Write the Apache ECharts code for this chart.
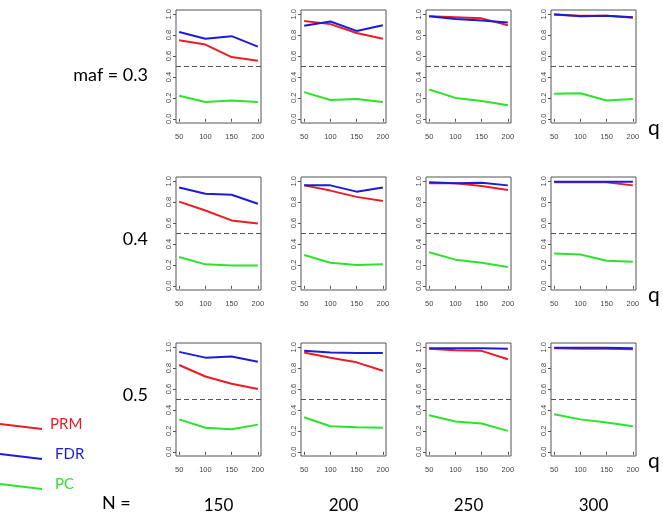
<!DOCTYPE html>
<html>
<head>
<meta charset="utf-8">
<script src="https://cdn.jsdelivr.net/npm/echarts@6/dist/echarts.min.js"></script>
<style>
  html, body { margin: 0; padding: 0; background: #fff; }
  #main { width: 663px; height: 520px; }
</style>
</head>
<body>
<div id="main"></div>
<script>
var qValues = [50, 100, 150, 200];
var nValues = [150, 200, 250, 300];
var rowLabels = ['maf = 0.3', '0.4', '0.5'];
var yTicks = [0, 0.2, 0.4, 0.6, 0.8, 1.0];
var cutoff = 0.5;

// rows = maf 0.3 / 0.4 / 0.5, inside each row one list per N
var prm = [
  [[0.75, 0.71, 0.59, 0.555], [0.935, 0.905, 0.82, 0.765], [0.98, 0.97, 0.96, 0.895], [0.995, 0.985, 0.985, 0.965]],
  [[0.805, 0.72, 0.625, 0.595], [0.96, 0.91, 0.85, 0.81], [0.98, 0.98, 0.955, 0.915], [0.99, 0.99, 0.99, 0.96]],
  [[0.83, 0.72, 0.65, 0.6], [0.95, 0.9, 0.855, 0.775], [0.985, 0.97, 0.965, 0.885], [0.99, 0.985, 0.985, 0.98]]
];
var fdr = [
  [[0.83, 0.765, 0.79, 0.69], [0.89, 0.93, 0.84, 0.895], [0.98, 0.955, 0.94, 0.92], [1.0, 0.98, 0.985, 0.97]],
  [[0.94, 0.88, 0.87, 0.785], [0.96, 0.96, 0.9, 0.94], [0.99, 0.98, 0.985, 0.96], [0.995, 0.995, 0.995, 0.995]],
  [[0.955, 0.9, 0.91, 0.86], [0.965, 0.95, 0.945, 0.945], [0.99, 0.99, 0.99, 0.985], [0.995, 0.995, 0.995, 0.99]]
];
var pc = [
  [[0.22, 0.16, 0.175, 0.16], [0.255, 0.18, 0.19, 0.16], [0.28, 0.2, 0.17, 0.13], [0.24, 0.245, 0.175, 0.19]],
  [[0.275, 0.205, 0.195, 0.195], [0.295, 0.22, 0.2, 0.205], [0.32, 0.25, 0.22, 0.18], [0.31, 0.3, 0.24, 0.23]],
  [[0.31, 0.23, 0.215, 0.26], [0.33, 0.245, 0.235, 0.23], [0.35, 0.29, 0.27, 0.2], [0.36, 0.31, 0.28, 0.245]]
];

var colLeft = [176, 301, 426, 551];
var rowTop = [10, 177, 343];
var boxW = 85, boxH = 113;
var colors = { PRM: '#ec1c24', FDR: '#1c1cd6', PC: '#2de22d' };
var axisColor = '#555';

var chart = echarts.init(document.getElementById('main'), null, { renderer: 'canvas' });

function pairs(vals) {
  return qValues.map(function (q, i) { return [q, vals[i]]; });
}

var grids = [], xAxes = [], yAxes = [], series = [];
for (var r = 0; r < 3; r++) {
  for (var c = 0; c < 4; c++) {
    var g = grids.length;
    grids.push({
      left: colLeft[c], top: rowTop[r], width: boxW, height: boxH,
      show: true, borderColor: axisColor, borderWidth: 1, backgroundColor: 'transparent'
    });
    xAxes.push({
      gridIndex: g, type: 'value', min: 44, max: 206,
      splitLine: { show: false },
      axisLine: { show: false },
      axisTick: { show: true, customValues: qValues, length: 3, lineStyle: { color: axisColor } },
      axisLabel: { customValues: qValues, fontSize: 7.5, color: '#444', margin: 10, fontFamily: 'Liberation Sans' }
    });
    yAxes.push({
      gridIndex: g, type: 'value', min: -0.04, max: 1.04,
      splitLine: { show: false },
      axisLine: { show: false },
      axisTick: { show: true, customValues: yTicks, length: 3, lineStyle: { color: axisColor } },
      axisLabel: {
        customValues: yTicks, fontSize: 7.5, color: '#444', margin: 3, rotate: 90,
        fontFamily: 'Liberation Sans',
        formatter: function (v) { return v.toFixed(1); }
      }
    });
    var common = {
      type: 'line', xAxisIndex: g, yAxisIndex: g, symbol: 'none',
      silent: true, animation: false
    };
    series.push(Object.assign({}, common, {
      name: 'PRM', data: pairs(prm[r][c]),
      lineStyle: { color: colors.PRM, width: 2 },
      markLine: {
        silent: true, symbol: 'none', label: { show: false },
        lineStyle: { color: '#555', type: [5, 3], width: 1 },
        data: [{ yAxis: cutoff }]
      }
    }));
    series.push(Object.assign({}, common, {
      name: 'FDR', data: pairs(fdr[r][c]),
      lineStyle: { color: colors.FDR, width: 2 }
    }));
    series.push(Object.assign({}, common, {
      name: 'PC', data: pairs(pc[r][c]),
      lineStyle: { color: colors.PC, width: 2 }
    }));
  }
}

var labelFont = 'Lato, "Open Sans", sans-serif';
var graphics = [];
var rowLabelY = [77, 241, 397];
rowLabels.forEach(function (t, r) {
  graphics.push({
    type: 'text', right: 663 - 148, top: rowLabelY[r] - 11,
    style: { text: t, font: '18px ' + labelFont, fill: '#000' }
  });
  graphics.push({
    type: 'text', left: 648, top: rowTop[r] + 108,
    style: { text: 'q', font: '21px ' + labelFont, fill: '#000' }
  });
});
graphics.push({
  type: 'text', left: 102, top: 494,
  style: { text: 'N =', font: '18px ' + labelFont, fill: '#000' }
});
nValues.forEach(function (n, c) {
  graphics.push({
    type: 'text', x: colLeft[c] + boxW / 2, y: 497,
    style: { text: String(n), font: '17px ' + labelFont, fill: '#000', textAlign: 'center' }
  });
});

// legend in the lower left corner
var legendItems = [
  { name: 'PRM', y: 426, tx: 50 },
  { name: 'FDR', y: 456, tx: 55 },
  { name: 'PC', y: 486, tx: 55 }
];
legendItems.forEach(function (it) {
  graphics.push({
    type: 'line',
    shape: { x1: 0, y1: it.y - 2, x2: 42, y2: it.y + 3 },
    style: { stroke: colors[it.name], lineWidth: 2 }
  });
  graphics.push({
    type: 'text', left: it.tx, top: it.y - 9,
    style: { text: it.name, font: '15px ' + labelFont, fill: colors[it.name] }
  });
});

chart.setOption({
  animation: false,
  backgroundColor: '#fff',
  grid: grids,
  xAxis: xAxes,
  yAxis: yAxes,
  series: series,
  graphic: graphics
});
</script>
</body>
</html>
